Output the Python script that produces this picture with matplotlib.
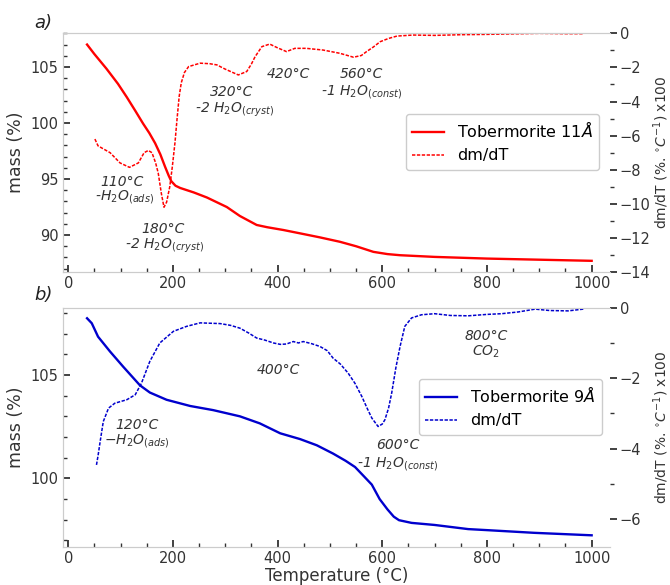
import numpy as np
import matplotlib
matplotlib.use("Agg")
import matplotlib.pyplot as plt
from matplotlib.ticker import MultipleLocator


# Tobermorite 11A : mass loss and derivative
temp_11 = [36, 50, 73, 95, 112, 128, 143, 155, 166, 176, 185, 192, 197, 205, 214, 240, 265,
           303, 328, 360, 380, 411, 443, 480, 519, 550, 583, 610, 634, 700, 800, 900, 1000]
mass_11 = [107.0, 106.15, 104.85, 103.5, 102.3, 101.1, 99.95, 99.1, 98.2, 97.2, 96.1, 95.3, 94.8,
           94.4, 94.2, 93.8, 93.35, 92.5, 91.7, 90.9, 90.7, 90.45, 90.15, 89.8, 89.4, 89.0,
           88.5, 88.3, 88.2, 88.05, 87.9, 87.8, 87.7]

temp_d11 = [51, 57, 80, 99, 117, 134, 145, 153, 160, 167, 172, 178, 183, 188, 194, 199, 204, 208,
            212, 216, 222, 230, 252, 270, 284, 300, 325, 341, 350, 357, 370, 385, 400, 417, 433,
            455, 487, 519, 545, 560, 570, 583, 596, 612, 628, 659, 700, 750, 800, 850, 900, 950, 985]
dmdt_11 = [-6.2, -6.6, -7.0, -7.6, -7.86, -7.6, -7.0, -6.87, -7.0, -7.6, -8.2, -9.4, -10.2, -9.9,
           -9.0, -7.8, -6.4, -5.0, -3.7, -2.9, -2.3, -1.95, -1.75, -1.78, -1.85, -2.1, -2.44, -2.24,
           -1.8, -1.37, -0.78, -0.63, -0.85, -1.07, -0.88, -0.88, -0.98, -1.17, -1.40, -1.3, -1.07,
           -0.8, -0.49, -0.3, -0.16, -0.1, -0.12, -0.08, -0.06, -0.03, 0.0, -0.02, -0.02]

# Tobermorite 9A : mass loss and derivative
temp_9 = [36, 45, 57, 80, 105, 137, 156, 188, 233, 277, 328, 366, 405, 443, 475, 506, 530, 548,
          565, 580, 595, 610, 622, 632, 656, 700, 764, 800, 890, 1000]
mass_9 = [107.74, 107.5, 106.85, 106.13, 105.4, 104.5, 104.15, 103.8, 103.5, 103.3, 103.0, 102.66,
          102.18, 101.9, 101.6, 101.2, 100.85, 100.55, 100.1, 99.7, 99.0, 98.5, 98.15, 97.98,
          97.85, 97.75, 97.55, 97.5, 97.37, 97.25]

temp_d9 = [54, 57, 61, 67, 77, 89, 112, 128, 140, 156, 175, 201, 226, 252, 270, 290, 310, 328, 345,
           360, 376, 392, 405, 417, 430, 440, 449, 465, 481, 495, 506, 520, 535, 548, 561, 571, 580,
           592, 600, 605, 612, 618, 626, 634, 643, 656, 675, 700, 730, 764, 800, 828, 860, 892, 920,
           955, 984]
dmdt_9 = [-4.46, -4.2, -3.8, -3.23, -2.85, -2.71, -2.61, -2.47, -2.14, -1.52, -1.0, -0.67, -0.53,
          -0.43, -0.44, -0.45, -0.5, -0.58, -0.72, -0.86, -0.92, -1.0, -1.04, -1.03, -0.96, -1.0,
          -0.96, -1.02, -1.1, -1.22, -1.43, -1.6, -1.86, -2.15, -2.52, -2.85, -3.13, -3.37, -3.3,
          -3.18, -2.85, -2.42, -1.7, -1.1, -0.53, -0.29, -0.2, -0.17, -0.22, -0.23, -0.19, -0.17,
          -0.12, -0.04, -0.08, -0.09, -0.04]

# peak labels: (T, mass, text)
notes_11 = [(102, 94.75, "110°C"), (108, 93.4, "-H$_2$O$_{(ads)}$"),
            (182, 90.5, "180°C"), (185, 89.0, "-2 H$_2$O$_{(cryst)}$"),
            (312, 102.8, "320°C"), (318, 101.2, "-2 H$_2$O$_{(cryst)}$"),
            (420, 104.35, "420°C"),
            (560, 104.35, "560°C"), (560, 102.8, "-1 H$_2$O$_{(const)}$")]
notes_9 = [(131, 102.6, "120°C"), (132, 101.8, "$-$H$_2$O$_{(ads)}$"),
           (402, 105.24, "400°C"),
           (630, 101.6, "600°C"), (630, 100.7, "-1 H$_2$O$_{(const)}$"),
           (799, 106.9, "800°C"), (799, 106.1, "CO$_2$")]

grey = "#cccccc"
txt = "#333333"
dash = (0, (2.2, 1.0))


def style_axes(ax, ax2, ylim, ylim2, major):
    ax.set_xlim(-10.5, 1035)
    ax.set_ylim(*ylim)
    ax2.set_ylim(*ylim2)
    ax.xaxis.set_major_locator(MultipleLocator(200))
    ax.xaxis.set_minor_locator(MultipleLocator(50))
    ax.yaxis.set_major_locator(MultipleLocator(major))
    ax.yaxis.set_minor_locator(MultipleLocator(1))
    ax2.yaxis.set_major_locator(MultipleLocator(2))
    ax2.yaxis.set_minor_locator(MultipleLocator(1))
    ax.tick_params(which="both", direction="in", colors=txt, labelsize=10.5)
    ax.tick_params(which="major", length=5, width=1.3, pad=3)
    ax.tick_params(which="minor", length=3, width=1)
    ax2.tick_params(which="both", direction="out", colors=txt, labelsize=10.5)
    ax2.tick_params(which="major", length=5, width=1.3, pad=2)
    ax2.tick_params(which="minor", length=3, width=1)
    for s in ["left", "top", "bottom"]:
        ax.spines[s].set_color(grey)
        ax2.spines[s].set_color(grey)
    ax.spines["right"].set_visible(False)
    ax2.spines["right"].set_visible(False)
    ax.set_ylabel("mass (%)", fontsize=12.5, color=txt)
    ax2.set_ylabel(r"dm/dT (%. $^{\circ}C^{-1}$) x100", fontsize=10, color=txt)
    # same x for both right labels, whatever the tick label widths
    ax2.yaxis.set_label_coords(1.076, 0.5)


fig = plt.figure(figsize=(6.7, 5.85), dpi=100)
ax_a = fig.add_axes([0.0936, 0.535, 0.8168, 0.408])
ax_a2 = ax_a.twinx()
ax_b = fig.add_axes([0.0936, 0.0655, 0.8168, 0.4085])
ax_b2 = ax_b.twinx()

# a) Tobermorite 11A
l1, = ax_a.plot(temp_11, mass_11, color="red", lw=1.7, label=r"Tobermorite 11$\AA$")
l2, = ax_a2.plot(temp_d11, dmdt_11, color="red", lw=1.1, ls=dash, label="dm/dT")
style_axes(ax_a, ax_a2, (86.7, 108), (-14, 0), 5)
for x, y, s in notes_11:
    ax_a.text(x, y, s, ha="center", va="center", style="italic", fontsize=10, color=txt)
ax_a.legend(handles=[l1, l2], loc="center right", bbox_to_anchor=(0.995, 0.545), fontsize=11.5,
            edgecolor=grey, framealpha=1)
fig.text(0.065, 0.96, "a)", style="italic", fontsize=13, ha="center", va="center", color="#222222")

# b) Tobermorite 9A
l3, = ax_b.plot(temp_9, mass_9, color="mediumblue", lw=1.7, label=r"Tobermorite 9$\AA$")
l4, = ax_b2.plot(temp_d9, dmdt_9, color="mediumblue", lw=1.1, ls=dash, label="dm/dT")
style_axes(ax_b, ax_b2, (96.7, 108.25), (-6.78, 0), 5)
for x, y, s in notes_9:
    ax_b.text(x, y, s, ha="center", va="center", style="italic", fontsize=10, color=txt)
ax_b.legend(handles=[l3, l4], loc="center right", bbox_to_anchor=(1.0, 0.585), fontsize=11.5,
            edgecolor=grey, framealpha=1)
ax_b.set_xlabel("Temperature (°C)", fontsize=12, color=txt, labelpad=1)
fig.text(0.065, 0.496, "b)", style="italic", fontsize=13, ha="center", va="center", color="#222222")

fig.savefig("out.png", dpi=100)
